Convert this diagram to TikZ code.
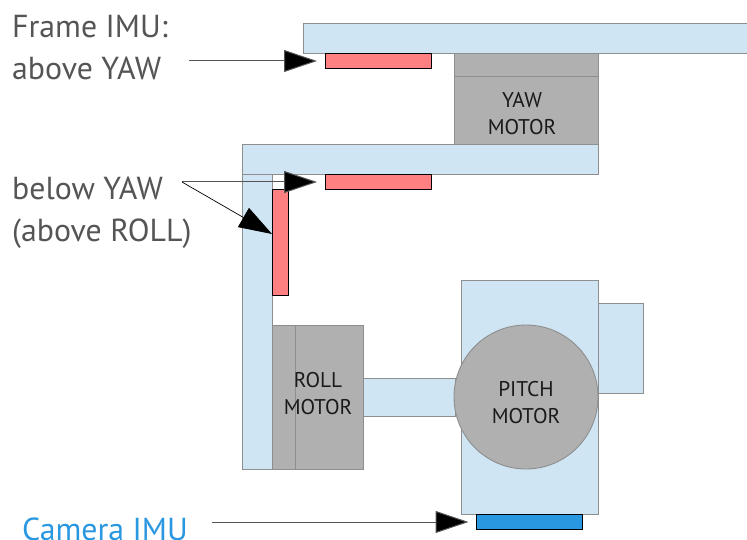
\documentclass[tikz,border=0pt]{standalone}
\usepackage{fontspec}
\setmainfont{PT Sans}
\usetikzlibrary{arrows.meta}
\definecolor{plateblue}{HTML}{CFE5F3}
\definecolor{edgegray}{HTML}{8E8E8E}
\definecolor{motorgray}{HTML}{B0B0B0}
\definecolor{imured}{HTML}{FF8080}
\definecolor{imublue}{HTML}{2A98E0}
\definecolor{labelgray}{HTML}{555555}
\definecolor{motortext}{HTML}{1A1A1A}
\tikzset{
  x=1pt,y=-1pt,
  sized/.style 2 args={minimum width=#1pt,minimum height=#2pt},
  box/.style={rectangle,draw=edgegray,line width=.9pt,inner sep=0pt,outer sep=0pt,anchor=north west},
  plate/.style={box,fill=plateblue},
  motor/.style={box,fill=motorgray},
  imu/.style={rectangle,draw=black,line width=.9pt,inner sep=0pt,outer sep=0pt,anchor=north west},
  callout/.style={text=labelgray,align=left,anchor=west,inner sep=0pt},
  motorlabel/.style={font=\fontsize{21.3}{27.5}\selectfont,text=motortext,align=center,inner sep=0pt},
  pointer/.style={draw=labelgray,line width=1pt,-{Triangle[length=33pt,width=22pt,fill=black]}},
}
\begin{document}
\begin{tikzpicture}
\useasboundingbox[fill=white] (0,0) rectangle (747,540);
% plates
\node[plate,sized={445}{30}] (topplate) at (303,23) {};
\node[plate,sized={30.5}{295}] (vertplate) at (242,174) {};
\node[plate,sized={356}{30}] (midplate) at (242,144) {};
\node[plate,sized={92}{38}] (rollarm) at (363.5,378) {};
\node[plate,sized={136.5}{234.5}] (camera) at (461.5,280) {};
\node[plate,sized={45}{90}] (camside) at (598,303) {};
% motors
\node[motor,sized={144}{91}] (yaw) at (454,53) {};
\draw[draw=edgegray,line width=.9pt] (yaw.west |- 0,76) -- (yaw.east |- 0,76);
\node[motorlabel] (yawlabel) at (522,113.5) {YAW\\MOTOR};
\node[motor,sized={91}{143.5}] (roll) at (272.5,325.5) {};
\draw[draw=edgegray,line width=.9pt] (295,0 |- roll.north) -- (295,0 |- roll.south);
\node[motorlabel] (rolllabel) at (318,393.5) {ROLL\\MOTOR};
\node[circle,draw=edgegray,fill=motorgray,line width=.9pt,minimum size=144pt,inner sep=0pt,outer sep=0pt] (pitch) at (526,397) {};
\node[motorlabel] (pitchlabel) at (526,402.5) {PITCH\\MOTOR};
% IMUs
\node[imu,fill=imured,sized={106.5}{15}] (imuframe) at (325,53) {};
\node[imu,fill=imured,sized={106.5}{15}] (imubelow) at (325,174.5) {};
\node[imu,fill=imured,sized={15.5}{105.5}] (imuside) at (272.5,189.5) {};
\node[imu,fill=imublue,sized={105.5}{15}] (imucam) at (476.5,514.5) {};
% texts
\node[callout,font=\fontsize{31.8}{42}\selectfont] (framelabel) at (12,47.5) {Frame IMU:\\above YAW};
\node[callout,font=\fontsize{31.8}{42}\selectfont] (belowlabel) at (12,213) {below YAW\\(above ROLL)};
\node[callout,font=\fontsize{31.8}{42}\selectfont,text=imublue,text depth=0pt] (camlabel) at (22,529.5) {Camera IMU};
% connectors
\coordinate (frametail) at (189,61);
\coordinate (frametip) at (317,61);
\coordinate (belowtail) at (182,182);
\coordinate (belowtip) at (317,182);
\coordinate (sidetip) at (272,234);
\coordinate (camtail) at (212,522);
\coordinate (camtip) at (468.5,522);
\draw[pointer] (frametail) -- (frametip);
\draw[pointer] (belowtail) -- (belowtip);
\draw[pointer,draw=black,line width=.7pt] (belowtail) -- (sidetip);
\draw[pointer] (camtail) -- (camtip);
\end{tikzpicture}
\end{document}
